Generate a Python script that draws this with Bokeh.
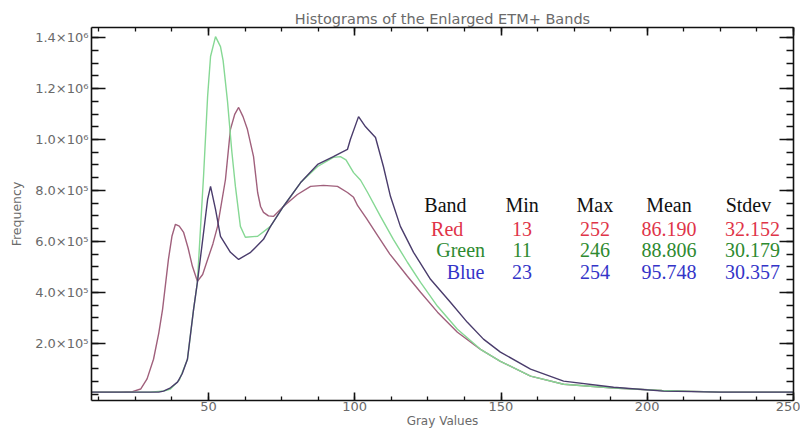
from bokeh.plotting import figure
from bokeh.models import LinearAxis, FixedTicker, Range1d, ColumnDataSource
from bokeh.embed import file_html
from bokeh.resources import INLINE
from bokeh.core.properties import value

# ---------------- data ----------------
red_x = [10, 20, 24, 26.8, 29, 31.2, 33, 34.3, 36.3, 37.5, 38.7, 40, 41.5, 43, 44.5, 46.2, 48,
         49.7, 51.5, 53.1, 55.8, 57.5, 59, 60.3, 61.8, 63.3, 65.4, 66.8, 67.8, 68.8, 70.5, 72.2,
         75.6, 80.4, 84.9, 89.3, 94.1, 97.5, 99.6, 101, 104, 108, 112, 118, 122.5, 128.3, 135.1,
         143, 149.8, 160.1, 171.4, 188.5, 205, 225, 250]
red_y = [8e3, 8e3, 1.0e4, 2.0e4, 6.0e4, 1.37e5, 2.4e5, 3.33e5, 5.29e5, 6.2e5, 6.67e5, 6.6e5,
         6.35e5, 5.75e5, 5.02e5, 4.43e5, 4.7e5, 5.29e5, 5.9e5, 6.59e5, 8.43e5, 1.04e6, 1.10e6,
         1.126e6, 1.09e6, 1.04e6, 9.33e5, 7.92e5, 7.37e5, 7.14e5, 7.0e5, 6.98e5, 7.37e5, 7.84e5,
         8.16e5, 8.2e5, 8.16e5, 7.92e5, 7.73e5, 7.4e5, 6.9e5, 6.2e5, 5.5e5, 4.63e5, 4.0e5,
         3.22e5, 2.43e5, 1.76e5, 1.29e5, 7.1e4, 3.9e4, 2.4e4, 1.4e4, 8e3, 8e3]

green_x = [10, 30, 35, 37, 40, 42.8, 44.9, 46.2, 47.3, 48.3, 49.7, 50.7, 52.4, 54.1, 55, 56.5,
           58, 59.2, 60.9, 62.6, 66.8, 71.2, 75.6, 81.5, 87.3, 92.7, 95.1, 97, 99.6, 102, 104.4,
           108.8, 113.2, 118, 122.5, 128.3, 135.1, 143, 149.8, 160.1, 171.4, 188.5, 205, 225, 250]
green_y = [8e3, 8e3, 1.3e4, 2.0e4, 5.5e4, 1.37e5, 3.33e5, 4.39e5, 6.59e5, 8.55e5, 1.17e6,
           1.326e6, 1.404e6, 1.365e6, 1.31e6, 1.15e6, 9.5e5, 8.16e5, 6.59e5, 6.16e5, 6.2e5,
           6.59e5, 7.37e5, 8.31e5, 8.94e5, 9.3e5, 9.33e5, 9.2e5, 8.7e5, 8.4e5, 7.92e5, 6.98e5,
           6.08e5, 5.18e5, 4.39e5, 3.45e5, 2.55e5, 1.76e5, 1.29e5, 7.1e4, 3.9e4, 2.4e4, 1.4e4,
           8e3, 8e3]

blue_x = [10, 33, 34.6, 37, 39.4, 41, 42.8, 44.9, 46.2, 47.9, 49.7, 50.7, 52.4, 54.1, 57.5,
          60.3, 64.4, 68.8, 71.2, 75.6, 81.5, 87.3, 92.7, 95.5, 97.5, 98.5, 101.3, 103.7, 107.1,
          109.8, 112.2, 115.6, 120.1, 125.9, 132.7, 138.5, 144, 149.8, 160.1, 171.4, 188.5,
          205.6, 225, 250]
blue_y = [8e3, 8e3, 1.2e4, 2.5e4, 4.7e4, 8e4, 1.37e5, 3.33e5, 4.39e5, 5.96e5, 7.65e5, 8.16e5,
          7.26e5, 6.2e5, 5.57e5, 5.29e5, 5.57e5, 6.08e5, 6.59e5, 7.37e5, 8.31e5, 9.02e5, 9.33e5,
          9.5e5, 9.61e5, 1.0e6, 1.09e6, 1.05e6, 1.008e6, 8.94e5, 7.77e5, 6.59e5, 5.57e5, 4.51e5,
          3.61e5, 2.82e5, 2.16e5, 1.65e5, 9.8e4, 5.1e4, 2.7e4, 1.2e4, 8e3, 8e3]

bands = ["Red", "Green", "Blue"]
band_min = [13, 11, 23]
band_max = [252, 246, 254]
band_mean = [86.190, 88.806, 95.748]
band_stdev = [32.152, 30.179, 30.357]

x_ticks = [50, 100, 150, 200, 250]
y_ticks = [200000, 400000, 600000, 800000, 1000000, 1200000, 1400000]
y_tick_labels = ["2.0×10⁵", "4.0×10⁵", "6.0×10⁵", "8.0×10⁵", "1.0×10⁶", "1.2×10⁶", "1.4×10⁶"]

# ---------------- styling / layout constants ----------------
CURVE_COLORS = {"Red": "#a0607c", "Green": "#86d894", "Blue": "#4a3c6c"}
TEXT_COLORS = {"Red": "#e03448", "Green": "#2e8a30", "Blue": "#3434c8"}
GRAY = "#6a6a6a"

p = figure(width=800, height=430, output_backend="svg", toolbar_location=None,
           x_range=Range1d(10, 250), y_range=Range1d(-25000, 1440000),
           min_border_left=91, min_border_right=7, min_border_top=27, min_border_bottom=0)
p.outline_line_color = None
p.xgrid.visible = False
p.ygrid.visible = False
p.background_fill_color = "white"
p.border_fill_color = "white"

p.title.text = "Histograms of the Enlarged ETM+ Bands"
p.title.align = "center"
p.title.text_font = "DejaVu Sans"
p.title.text_font_style = "normal"
p.title.text_font_size = "14.5px"
p.title.text_color = GRAY
p.title.standoff = 2

x_minor = [12.5 * i for i in range(1, 21)]
y_minor = [50000 * i for i in range(0, 29)]
xticker = FixedTicker(ticks=x_ticks, minor_ticks=x_minor)
yticker = FixedTicker(ticks=y_ticks, minor_ticks=y_minor)

def style(ax, major, minor):
    ax.major_tick_in = major
    ax.major_tick_out = 0
    ax.minor_tick_in = minor
    ax.minor_tick_out = 0
    ax.axis_line_width = 1.6
    ax.axis_line_color = "#111111"
    ax.major_tick_line_width = 1.6
    ax.major_tick_line_color = "#111111"
    ax.minor_tick_line_width = 1.3
    ax.minor_tick_line_color = "#111111"
    ax.major_label_text_font = "DejaVu Sans"
    ax.major_label_text_color = GRAY
    ax.major_label_text_font_size = "13px"
    ax.major_label_standoff = 3
    ax.axis_label_text_font = "DejaVu Sans"
    ax.axis_label_text_font_style = "normal"
    ax.axis_label_text_color = GRAY
    ax.axis_label_text_font_size = "12.5px"

xa = p.xaxis[0]
xa.ticker = xticker
style(xa, 8, 4)
xa.axis_label = "Gray Values"
xa.axis_label_standoff = 0
xa.major_label_standoff = 1
xa.axis_label_text_font_size = "12px"

ya = p.yaxis[0]
ya.ticker = yticker
style(ya, 14, 7)
ya.major_label_overrides = {t: s for t, s in zip(y_ticks, y_tick_labels)}
ya.axis_label = "Frequency"
ya.axis_label_standoff = 8

top = LinearAxis(ticker=xticker)
style(top, 8, 4)
top.major_label_overrides = {t: "" for t in x_ticks}
top.major_label_standoff = 0
top.axis_label_standoff = 0
p.add_layout(top, "above")

right = LinearAxis(ticker=yticker)
style(right, 14, 7)
right.major_label_overrides = {t: "" for t in y_ticks}
right.major_label_standoff = 0
right.axis_label_standoff = 0
p.add_layout(right, "right")

for name, xs, ys in (("Red", red_x, red_y), ("Green", green_x, green_y), ("Blue", blue_x, blue_y)):
    p.line(xs, ys, line_color=CURVE_COLORS[name], line_width=1.4)

# ---------------- statistics table ----------------
header_y = 7.42e5
row_y = [6.49e5, 5.65e5, 4.79e5]
band_name_x = [131.6, 136.2, 137.9]
col_x = {"Min": 157.2, "Max": 182.1, "Mean": 207.4, "Stdev": 236.0}
header_x = {"Band": 131.0, "Min": 157.2, "Max": 182.1, "Mean": 207.4, "Stdev": 234.6}

hdr = ColumnDataSource(dict(x=list(header_x.values()), y=[header_y] * 5, t=list(header_x.keys())))
p.text(x="x", y="y", text="t", source=hdr, text_font=value("Liberation Serif"),
       text_font_size="20px", text_align="center", text_baseline="alphabetic", text_color="#111111")

rx, ry, rt, rc = [], [], [], []
for i, b in enumerate(bands):
    cells = [(band_name_x[i], b), (col_x["Min"], str(band_min[i])), (col_x["Max"], str(band_max[i])),
             (col_x["Mean"], f"{band_mean[i]:.3f}"), (col_x["Stdev"], f"{band_stdev[i]:.3f}")]
    for cx, txt in cells:
        rx.append(cx); ry.append(row_y[i]); rt.append(txt); rc.append(TEXT_COLORS[b])
rows = ColumnDataSource(dict(x=rx, y=ry, t=rt, c=rc))
p.text(x="x", y="y", text="t", color="c", source=rows, text_font=value("Liberation Serif"),
       text_font_size="20px", text_align="center", text_baseline="alphabetic")

open("out.html", "w").write(file_html(p, INLINE))
